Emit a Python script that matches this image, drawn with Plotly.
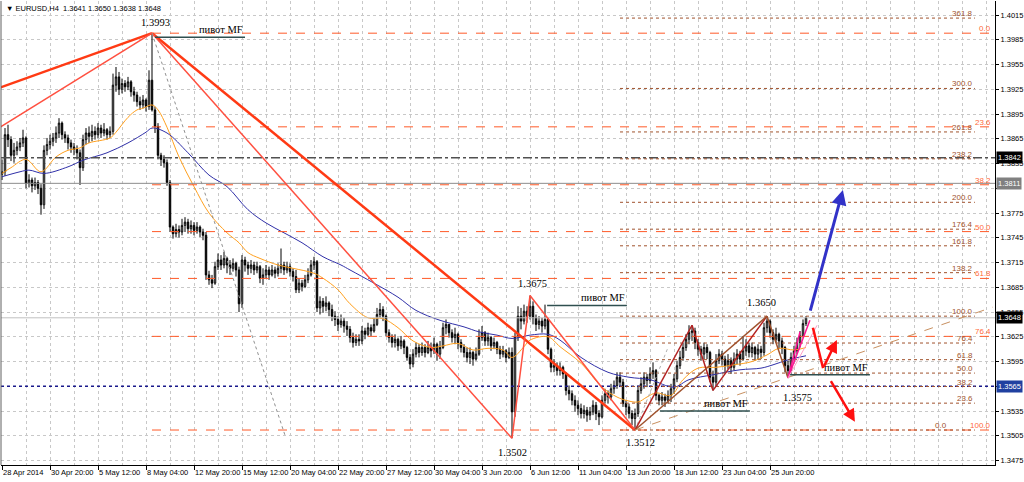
import plotly.graph_objects as go

# ---------------- data ----------------
bars = list(range(269))
first_open = 1.3822
closes = [
    1.3825, 1.3870, 1.3864, 1.3845, 1.3851, 1.3855, 1.3860, 1.3866, 1.3811, 1.3815,
    1.3808, 1.3812, 1.3805, 1.3785, 1.3851, 1.3858, 1.3862, 1.3866, 1.3872, 1.3884,
    1.3870, 1.3866, 1.3860, 1.3855, 1.3852, 1.3848, 1.3830, 1.3864, 1.3872, 1.3868,
    1.3874, 1.3870, 1.3878, 1.3872, 1.3876, 1.3870, 1.3874, 1.3930, 1.3940, 1.3925,
    1.3932, 1.3928, 1.3934, 1.3922, 1.3918, 1.3910, 1.3906, 1.3912, 1.3904, 1.3936,
    1.3900, 1.3880, 1.3845, 1.3840, 1.3836, 1.3812, 1.3758, 1.3750, 1.3755, 1.3752,
    1.3760, 1.3764, 1.3756, 1.3760, 1.3754, 1.3758, 1.3752, 1.3748, 1.3700, 1.3694,
    1.3690, 1.3710, 1.3718, 1.3712, 1.3720, 1.3712, 1.3708, 1.3714, 1.3706, 1.3665,
    1.3718, 1.3712, 1.3708, 1.3712, 1.3706, 1.3710, 1.3696, 1.3700, 1.3706, 1.3700,
    1.3706, 1.3702, 1.3708, 1.3712, 1.3706, 1.3710, 1.3704, 1.3698, 1.3682, 1.3690,
    1.3686, 1.3694, 1.3700, 1.3712, 1.3716, 1.3660, 1.3668, 1.3662, 1.3666, 1.3658,
    1.3650, 1.3646, 1.3640, 1.3644, 1.3638, 1.3634, 1.3624, 1.3618, 1.3622, 1.3620,
    1.3632, 1.3628, 1.3636, 1.3632, 1.3640, 1.3652, 1.3658, 1.3650, 1.3630, 1.3624,
    1.3618, 1.3622, 1.3614, 1.3620, 1.3612, 1.3600, 1.3592, 1.3604, 1.3612, 1.3606,
    1.3612, 1.3606, 1.3612, 1.3608, 1.3616, 1.3604, 1.3612, 1.3636, 1.3640, 1.3630,
    1.3624, 1.3628, 1.3618, 1.3612, 1.3606, 1.3600, 1.3606, 1.3598, 1.3604, 1.3624,
    1.3630, 1.3620, 1.3624, 1.3614, 1.3618, 1.3610, 1.3604, 1.3608, 1.3600, 1.3606,
    1.3534, 1.3625, 1.3650, 1.3644, 1.3656, 1.3650, 1.3662, 1.3648, 1.3640, 1.3644,
    1.3638, 1.3646, 1.3610, 1.3588, 1.3590, 1.3584, 1.3588, 1.3580, 1.3560, 1.3556,
    1.3548, 1.3542, 1.3538, 1.3532, 1.3536, 1.3530, 1.3534, 1.3542, 1.3532, 1.3528,
    1.3548, 1.3556, 1.3552, 1.3562, 1.3566, 1.3576, 1.3570, 1.3544, 1.3540, 1.3532,
    1.3526, 1.3532, 1.3560, 1.3568, 1.3576, 1.3572, 1.3580, 1.3584, 1.3554, 1.3548,
    1.3552, 1.3548, 1.3554, 1.3562, 1.3574, 1.3590, 1.3600, 1.3612, 1.3622, 1.3630,
    1.3632, 1.3618, 1.3610, 1.3604, 1.3612, 1.3606, 1.3576, 1.3570, 1.3596, 1.3604,
    1.3598, 1.3590, 1.3596, 1.3588, 1.3598, 1.3604, 1.3598, 1.3608, 1.3614, 1.3606,
    1.3612, 1.3604, 1.3610, 1.3606, 1.3636, 1.3644, 1.3630, 1.3622, 1.3628, 1.3620,
    1.3612, 1.3590, 1.3584, 1.3600, 1.3608, 1.3618, 1.3626, 1.3641, 1.3648,
]
highs = [
    1.3840, 1.3878, 1.3882, 1.3868, 1.3860, 1.3862, 1.3866, 1.3876, 1.3868, 1.3822,
    1.3818, 1.3818, 1.3815, 1.3810, 1.3857, 1.3866, 1.3870, 1.3872, 1.3880, 1.3890,
    1.3886, 1.3874, 1.3870, 1.3864, 1.3860, 1.3857, 1.3852, 1.3870, 1.3878, 1.3880,
    1.3882, 1.3880, 1.3884, 1.3882, 1.3884, 1.3878, 1.3880, 1.3944, 1.3952, 1.3946,
    1.3938, 1.3936, 1.3940, 1.3936, 1.3928, 1.3922, 1.3916, 1.3918, 1.3914, 1.3948,
    1.3993, 1.3904, 1.3884, 1.3848, 1.3845, 1.3840, 1.3815, 1.3760, 1.3762, 1.3760,
    1.3768, 1.3770, 1.3768, 1.3766, 1.3764, 1.3764, 1.3760, 1.3756, 1.3752, 1.3705,
    1.3700, 1.3716, 1.3726, 1.3724, 1.3728, 1.3722, 1.3718, 1.3720, 1.3716, 1.3710,
    1.3724, 1.3722, 1.3716, 1.3718, 1.3716, 1.3716, 1.3712, 1.3708, 1.3712, 1.3710,
    1.3712, 1.3710, 1.3714, 1.3732, 1.3716, 1.3716, 1.3714, 1.3708, 1.3706, 1.3696,
    1.3694, 1.3700, 1.3708, 1.3718, 1.3722, 1.3718, 1.3674, 1.3672, 1.3674, 1.3668,
    1.3664, 1.3656, 1.3650, 1.3652, 1.3648, 1.3644, 1.3638, 1.3630, 1.3628, 1.3628,
    1.3638, 1.3636, 1.3642, 1.3640, 1.3648, 1.3660, 1.3666, 1.3662, 1.3652, 1.3634,
    1.3628, 1.3628, 1.3624, 1.3626, 1.3622, 1.3614, 1.3604, 1.3610, 1.3618, 1.3616,
    1.3618, 1.3616, 1.3620, 1.3618, 1.3624, 1.3618, 1.3620, 1.3642, 1.3646, 1.3640,
    1.3634, 1.3636, 1.3630, 1.3622, 1.3616, 1.3612, 1.3612, 1.3608, 1.3612, 1.3634,
    1.3638, 1.3632, 1.3630, 1.3626, 1.3624, 1.3620, 1.3614, 1.3614, 1.3610, 1.3612,
    1.3612, 1.3630, 1.3662, 1.3660, 1.3664, 1.3662, 1.3675, 1.3668, 1.3652, 1.3650,
    1.3648, 1.3664, 1.3648, 1.3612, 1.3598, 1.3594, 1.3594, 1.3590, 1.3582, 1.3566,
    1.3560, 1.3554, 1.3548, 1.3544, 1.3542, 1.3540, 1.3540, 1.3548, 1.3546, 1.3536,
    1.3554, 1.3562, 1.3560, 1.3568, 1.3572, 1.3582, 1.3582, 1.3574, 1.3548, 1.3544,
    1.3536, 1.3538, 1.3566, 1.3576, 1.3582, 1.3580, 1.3588, 1.3594, 1.3586, 1.3556,
    1.3558, 1.3556, 1.3560, 1.3568, 1.3580, 1.3596, 1.3608, 1.3618, 1.3628, 1.3639,
    1.3639, 1.3636, 1.3622, 1.3614, 1.3618, 1.3616, 1.3608, 1.3584, 1.3604, 1.3610,
    1.3608, 1.3602, 1.3604, 1.3600, 1.3606, 1.3610, 1.3608, 1.3626, 1.3622, 1.3618,
    1.3618, 1.3614, 1.3616, 1.3614, 1.3642, 1.3650, 1.3646, 1.3634, 1.3636, 1.3630,
    1.3624, 1.3614, 1.3596, 1.3606, 1.3614, 1.3624, 1.3632, 1.3646, 1.3650,
]
lows = [
    1.3815, 1.3820, 1.3855, 1.3838, 1.3836, 1.3845, 1.3850, 1.3855, 1.3805, 1.3806,
    1.3800, 1.3803, 1.3798, 1.3773, 1.3780, 1.3845, 1.3852, 1.3856, 1.3860, 1.3866,
    1.3864, 1.3860, 1.3852, 1.3848, 1.3845, 1.3840, 1.3809, 1.3826, 1.3858, 1.3860,
    1.3862, 1.3864, 1.3866, 1.3866, 1.3868, 1.3864, 1.3866, 1.3870, 1.3922, 1.3918,
    1.3920, 1.3922, 1.3924, 1.3916, 1.3910, 1.3904, 1.3900, 1.3902, 1.3898, 1.3900,
    1.3898, 1.3872, 1.3840, 1.3832, 1.3830, 1.3808, 1.3752, 1.3744, 1.3746, 1.3745,
    1.3748, 1.3752, 1.3750, 1.3750, 1.3748, 1.3750, 1.3746, 1.3742, 1.3694, 1.3688,
    1.3684, 1.3688, 1.3706, 1.3706, 1.3708, 1.3702, 1.3700, 1.3704, 1.3698, 1.3655,
    1.3660, 1.3704, 1.3700, 1.3702, 1.3700, 1.3702, 1.3690, 1.3688, 1.3696, 1.3694,
    1.3698, 1.3696, 1.3698, 1.3702, 1.3700, 1.3702, 1.3698, 1.3692, 1.3678, 1.3678,
    1.3680, 1.3684, 1.3690, 1.3698, 1.3706, 1.3655, 1.3652, 1.3654, 1.3656, 1.3650,
    1.3644, 1.3638, 1.3632, 1.3636, 1.3630, 1.3626, 1.3618, 1.3612, 1.3614, 1.3614,
    1.3616, 1.3622, 1.3626, 1.3626, 1.3630, 1.3638, 1.3648, 1.3644, 1.3626, 1.3618,
    1.3612, 1.3612, 1.3608, 1.3610, 1.3604, 1.3596, 1.3586, 1.3588, 1.3600, 1.3600,
    1.3602, 1.3600, 1.3604, 1.3600, 1.3604, 1.3596, 1.3598, 1.3610, 1.3628, 1.3624,
    1.3618, 1.3616, 1.3610, 1.3606, 1.3600, 1.3594, 1.3592, 1.3590, 1.3596, 1.3602,
    1.3620, 1.3614, 1.3614, 1.3608, 1.3610, 1.3604, 1.3598, 1.3600, 1.3594, 1.3598,
    1.3502, 1.3528, 1.3620, 1.3634, 1.3640, 1.3642, 1.3646, 1.3640, 1.3632, 1.3634,
    1.3630, 1.3634, 1.3604, 1.3582, 1.3582, 1.3578, 1.3578, 1.3574, 1.3554, 1.3548,
    1.3542, 1.3534, 1.3530, 1.3526, 1.3526, 1.3522, 1.3524, 1.3530, 1.3524, 1.3518,
    1.3526, 1.3544, 1.3544, 1.3548, 1.3556, 1.3562, 1.3564, 1.3540, 1.3530, 1.3526,
    1.3518, 1.3512, 1.3528, 1.3556, 1.3562, 1.3564, 1.3568, 1.3574, 1.3548, 1.3542,
    1.3542, 1.3540, 1.3544, 1.3546, 1.3556, 1.3570, 1.3586, 1.3596, 1.3608, 1.3616,
    1.3620, 1.3610, 1.3602, 1.3596, 1.3598, 1.3598, 1.3570, 1.3560, 1.3566, 1.3592,
    1.3590, 1.3582, 1.3586, 1.3580, 1.3584, 1.3592, 1.3590, 1.3596, 1.3602, 1.3600,
    1.3600, 1.3596, 1.3598, 1.3598, 1.3602, 1.3630, 1.3624, 1.3616, 1.3618, 1.3610,
    1.3604, 1.3582, 1.3575, 1.3580, 1.3596, 1.3604, 1.3612, 1.3624, 1.3638,
]
opens = [first_open] + closes[:-1]

# moving averages (bar index, price)
ma_fast_bar = [0, 3, 8, 13, 18, 22, 26, 29, 36, 38, 42, 45, 47, 50, 52, 55, 59, 64, 69, 75,
               79, 82, 86, 92, 97, 104, 107, 112, 116, 122, 127, 132, 137, 143, 147, 152, 157,
               162, 167, 170, 174, 176, 182, 186, 193, 200, 205, 208, 212, 215, 218, 223, 227,
               232, 238, 244, 250, 255, 259, 264, 268]
ma_fast_val = [1.3823, 1.3830, 1.3840, 1.3825, 1.3843, 1.3851, 1.3854, 1.3860, 1.3866, 1.3873,
               1.3891, 1.3900, 1.3902, 1.3906, 1.3900, 1.3879, 1.3843, 1.3807, 1.3775, 1.3751,
               1.3739, 1.3727, 1.3720, 1.3712, 1.3708, 1.3702, 1.3696, 1.3682, 1.3665, 1.3648,
               1.3647, 1.3636, 1.3620, 1.3612, 1.3614, 1.3617, 1.3609, 1.3611, 1.3609, 1.3600,
               1.3613, 1.3621, 1.3625, 1.3613, 1.3593, 1.3564, 1.3552, 1.3548, 1.3546, 1.3552,
               1.3557, 1.3554, 1.3573, 1.3587, 1.3588, 1.3591, 1.3595, 1.3603, 1.3611, 1.3609,
               1.3612]
ma_slow_bar = [0, 6, 9, 14, 22, 27, 35, 42, 48, 50, 55, 62, 69, 75, 82, 88, 94, 100, 107, 113,
               116, 124, 132, 138, 146, 154, 159, 165, 170, 176, 182, 186, 193, 202, 209, 216,
               224, 229, 237, 246, 253, 257, 262, 268]
ma_slow_val = [1.3819, 1.3825, 1.3827, 1.3823, 1.3831, 1.3839, 1.3848, 1.3860, 1.3873, 1.3878,
               1.3872, 1.3848, 1.3821, 1.3807, 1.3779, 1.3763, 1.3751, 1.3739, 1.3722, 1.3712,
               1.3706, 1.3690, 1.3673, 1.3657, 1.3645, 1.3637, 1.3631, 1.3627, 1.3623, 1.3627,
               1.3628, 1.3621, 1.3600, 1.3582, 1.3576, 1.3573, 1.3564, 1.3573, 1.3579, 1.3585,
               1.3587, 1.3591, 1.3597, 1.3602]

# axis ticks
x_tick_bars = [0, 16, 32, 48, 64, 80, 96, 112, 128, 144, 160, 176, 192, 208, 224, 240, 256]
x_tick_labels = ["28 Apr 2014", "30 Apr 20:00", "5 May 12:00", "8 May 04:00", "12 May 20:00",
                 "15 May 12:00", "20 May 04:00", "22 May 20:00", "27 May 12:00", "30 May 04:00",
                 "3 Jun 20:00", "6 Jun 12:00", "11 Jun 04:00", "13 Jun 20:00", "18 Jun 12:00",
                 "23 Jun 04:00", "25 Jun 20:00"]
y_tick_vals = [1.3475, 1.3505, 1.3535, 1.3565, 1.3595, 1.3625, 1.3655, 1.3685, 1.3715, 1.3745,
               1.3775, 1.3805, 1.3835, 1.3865, 1.3895, 1.3925, 1.3955, 1.3985, 1.4015]
# tick labels that sit under the price boxes on the axis
y_tick_hidden = [1.3565, 1.3805]

# swing points (bar, price)
peak = (50, 1.3993)
low_a = (170, 1.3502)
high_a = (176, 1.3675)
low_b = (211, 1.3512)
high_b = (230, 1.3639)
low_c = (237, 1.3560)
high_c = (255, 1.3650)
low_d = (262, 1.3575)
fan_left_ends = [(-0.7, 1.3927), (-0.7, 1.3879)]
gray_ray_end = (94.3, 1.3506)
gray_ray2_end = (222, 1.3612)
trend_end = (330.3, 1.3661)
pink_ends = [(266, 1.3631), (269.3, 1.3645), (271.7, 1.3639)]

# fibonacci tools
fib_a_levels = [0.0, 23.6, 38.2, 50.0, 61.8, 76.4, 100.0]
fib_b_levels = [0.0, 23.6, 38.2, 50.0, 61.8, 76.4, 100.0, 138.2, 161.8, 176.4, 200.0, 238.2,
                261.8, 300.0, 361.8]
fib_a_span = (50, 330.3)
fib_b_span = (206, 324.3)

# horizontal levels
h_prices = [1.3842, 1.3811, 1.3565, 1.3648]
h_colors = ["#505050", "#8c8c8c", "#1a1a8c", "#c0c0c0"]
h_dashes = ["dashdot", "solid", "dot", "solid"]
h_widths = [1.5, 1, 1.5, 1]
box_prices = [1.3842, 1.3811, 1.3648, 1.3565]
box_colors = ["#000000", "#808080", "#000000", "#2040a0"]

# pivot MF marks
pivot_prices = [1.3988, 1.3663, 1.3535, 1.3579]
pivot_start = [51, 181.7, 219.3, 262.7]
pivot_end = [81, 208.3, 249.3, 289.3]

# price text labels
price_text = ["1.3993", "1.3675", "1.3650", "1.3502", "1.3512", "1.3575"]
price_text_bar = [51, 176.7, 253.3, 170.3, 212.7, 265]
price_text_y = [1.4006, 1.3690, 1.3666, 1.3485, 1.3497, 1.3551]

# forecast arrows
blue_arrow = [(269.3, 1.3655), (280.3, 1.3803)]
red_zig = [(270.3, 1.3636), (273.7, 1.3587), (278.3, 1.3621)]
red_down = [(276, 1.3573), (284.3, 1.3522)]

AXIS_FONT = "Liberation Sans"

# ---------------- figure ----------------
fig = go.Figure()
fig.add_trace(go.Candlestick(
    x=bars, open=opens, high=highs, low=lows, close=closes,
    increasing=dict(line=dict(color="#000000", width=1), fillcolor="#ffffff"),
    decreasing=dict(line=dict(color="#000000", width=1), fillcolor="#000000"),
    whiskerwidth=0, showlegend=False, hoverinfo="skip"))
fig.add_trace(go.Scatter(x=ma_fast_bar, y=ma_fast_val, mode="lines",
                         line=dict(color="#ffa01e", width=1, shape="spline"),
                         showlegend=False, hoverinfo="skip"))
fig.add_trace(go.Scatter(x=ma_slow_bar, y=ma_slow_val, mode="lines",
                         line=dict(color="#3030a8", width=1, shape="spline"),
                         showlegend=False, hoverinfo="skip"))

shapes = []


def seg(p0, p1, color, width, dash="solid"):
    shapes.append(dict(type="line", xref="x", yref="y", x0=p0[0], y0=p0[1], x1=p1[0], y1=p1[1],
                       line=dict(color=color, width=width, dash=dash), layer="above"))


# horizontal full-width levels
for p, c, d, w in zip(h_prices, h_colors, h_dashes, h_widths):
    shapes.append(dict(type="line", xref="paper", yref="y", x0=0, x1=1, y0=p, y1=p,
                       line=dict(color=c, width=w, dash=d), layer="above"))

annotations = []

# fib A (peak -> low_b)
rng_a = peak[1] - low_b[1]
for lv in fib_a_levels:
    p = peak[1] - lv / 100 * rng_a
    seg((fib_a_span[0], p), (fib_a_span[1], p), "#ff5a28", 1, "dash")
    annotations.append(dict(x=fib_a_span[1], y=p, xref="x", yref="y", text=f"{lv:.1f}",
                            showarrow=False, xanchor="right", yanchor="bottom", yshift=-2,
                            font=dict(size=8, color="#ff6a3a", family=AXIS_FONT)))
# fib B (low_b -> high_c)
rng_b = high_c[1] - low_b[1]
for lv in fib_b_levels:
    p = low_b[1] + lv / 100 * rng_b
    seg((fib_b_span[0], p), (fib_b_span[1], p), "#a0522d", 1, "dot")
    annotations.append(dict(x=fib_b_span[1] - (8.5 if lv == 0 else 0), y=p, xref="x", yref="y",
                            text=f"{lv:.1f}", showarrow=False, xanchor="right",
                            yanchor="bottom", yshift=-2,
                            font=dict(size=8, color="#a0522d", family=AXIS_FONT)))

# fans / zigzags
seg(fan_left_ends[0], peak, "#ff3a14", 2.5)
seg(fan_left_ends[1], peak, "#ff5040", 1.5)
seg(peak, low_b, "#ff3a14", 2.5)
seg(peak, low_a, "#ff5040", 1.5)
seg(low_a, high_a, "#ff5040", 1.5)
seg(high_a, low_b, "#ff5040", 1.5)
seg(peak, gray_ray_end, "#909090", 1, "dot")
seg(low_b, gray_ray2_end, "#b0b0b0", 1, "dot")
seg(low_b, high_b, "#b22222", 1.5)
seg(high_b, low_c, "#b22222", 1.5)
seg(low_c, high_c, "#b22222", 1.5)
seg(low_b, high_c, "#a0522d", 1.5)
seg(high_c, low_d, "#a0522d", 1.5)
seg(low_b, trend_end, "#c89060", 1, "dash")
seg(low_d, pink_ends[0], "#ff1493", 1.5)
seg(low_d, pink_ends[1], "#ff1493", 1.5)
seg(low_d, pink_ends[2], "#ff9ec8", 1)

# pivot MF
for p, s, e in zip(pivot_prices, pivot_start, pivot_end):
    seg((s, p), (e, p), "#2f4f4f", 1.5)
    annotations.append(dict(x=e, y=p, xref="x", yref="y", text="пивот MF", showarrow=False,
                            xanchor="right", yanchor="bottom", yshift=0,
                            font=dict(size=10.5, color="#000000", family="Liberation Serif")))

# price text
for t, b, p in zip(price_text, price_text_bar, price_text_y):
    annotations.append(dict(x=b, y=p, xref="x", yref="y", text=t, showarrow=False,
                            font=dict(size=10.5, color="#000000", family="Liberation Serif")))

# forecast arrows
annotations.append(dict(x=blue_arrow[1][0], y=blue_arrow[1][1], ax=blue_arrow[0][0],
                        ay=blue_arrow[0][1], xref="x", yref="y", axref="x", ayref="y",
                        showarrow=True, arrowhead=2, arrowsize=1, arrowwidth=3,
                        arrowcolor="#3232c8", text=""))
seg(red_zig[0], red_zig[1], "#ff1010", 2.5)
annotations.append(dict(x=red_zig[2][0], y=red_zig[2][1], ax=red_zig[1][0], ay=red_zig[1][1],
                        xref="x", yref="y", axref="x", ayref="y", showarrow=True, arrowhead=2,
                        arrowsize=1, arrowwidth=2.5, arrowcolor="#ff1010", text=""))
annotations.append(dict(x=red_down[1][0], y=red_down[1][1], ax=red_down[0][0],
                        ay=red_down[0][1], xref="x", yref="y", axref="x", ayref="y",
                        showarrow=True, arrowhead=2, arrowsize=1, arrowwidth=2.5,
                        arrowcolor="#ff1010", text=""))

# price boxes on the axis
for p, c in zip(box_prices, box_colors):
    annotations.append(dict(x=1, y=p, xref="paper", yref="y", text=f"{p:.4f}", showarrow=False,
                            xanchor="left", xshift=1, bgcolor=c, borderpad=1,
                            font=dict(size=7.5, color="#ffffff", family=AXIS_FONT)))

# title
annotations.append(dict(x=0, y=1, xref="paper", yref="paper", xanchor="left", yanchor="top",
                        xshift=3, yshift=-1, showarrow=False,
                        text="▼ EURUSD,H4  1.3641 1.3650 1.3638 1.3648",
                        font=dict(size=7.5, color="#000000", family=AXIS_FONT)))

# left frame
shapes.append(dict(type="line", xref="paper", yref="paper", x0=0, x1=0, y0=0, y1=1,
                   line=dict(color="#606060", width=1)))

y_tick_text = ["" if v in y_tick_hidden else f"{v:.4f}" for v in y_tick_vals]

fig.update_layout(
    width=1024, height=482,
    margin=dict(l=1, r=29, t=1, b=17, autoexpand=False),
    paper_bgcolor="#ffffff", plot_bgcolor="#ffffff",
    shapes=shapes, annotations=annotations,
    showlegend=False,
    xaxis=dict(range=[-1 / 3, 331], tickmode="array", tickvals=x_tick_bars,
               ticktext=x_tick_labels, ticks="outside", ticklen=4, tickcolor="#000000",
               ticklabelposition="outside right", tickangle=0, automargin=False,
               tickfont=dict(size=7.5, color="#000000", family=AXIS_FONT),
               showgrid=True, gridcolor="#c8c8c8", griddash="dot", gridwidth=1,
               minor=dict(tickmode="linear", tick0=0, dtick=8, showgrid=True,
                          gridcolor="#c8c8c8", griddash="dot", gridwidth=1),
               showline=True, linecolor="#000000", linewidth=1, zeroline=False,
               rangeslider=dict(visible=False), fixedrange=True),
    yaxis=dict(side="right", range=[1.34696, 1.40320], tickmode="array",
               tickvals=y_tick_vals, ticktext=y_tick_text,
               ticks="outside", ticklen=3, tickcolor="#000000", automargin=False,
               tickfont=dict(size=7.5, color="#000000", family=AXIS_FONT),
               showgrid=True, gridcolor="#c8c8c8", griddash="dot", gridwidth=1,
               showline=True, linecolor="#000000", linewidth=1, zeroline=False,
               fixedrange=True),
)

fig.write_html("out.html", config={"displayModeBar": False},
               post_script="document.body.style.margin='0';document.body.style.overflow='hidden';")
